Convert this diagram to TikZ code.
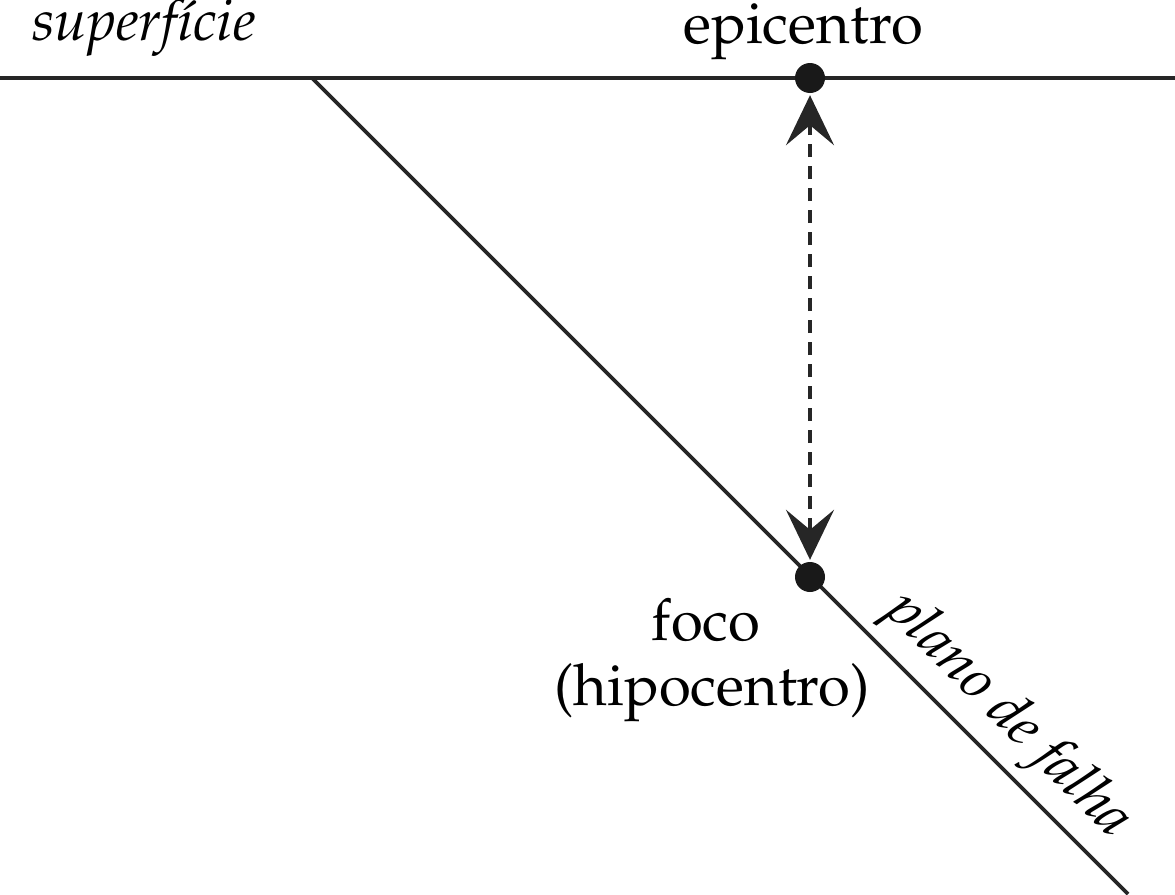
\documentclass[tikz,border=0pt]{standalone}
\usepackage[T1]{fontenc}
\usepackage{mathpazo}
\usetikzlibrary{arrows.meta}
\begin{document}
\begin{tikzpicture}[x=1pt,y=-1pt,
  ln/.style={line width=3.6pt,color=black!85},
  dotn/.style={circle,fill=black!90,inner sep=0pt,minimum size=30pt},
  lbl/.style={font=\fontsize{58}{67}\selectfont,inner sep=0pt,text=black},
  dasharrow/.style={line width=3.6pt,color=black!85,dash pattern=on 13pt off 9pt,
    {Stealth[length=50pt,width=48pt,inset=20pt]}-{Stealth[length=50pt,width=48pt,inset=20pt]},
    shorten <=2pt,shorten >=2pt}]
\useasboundingbox (0,0) rectangle (1175,894);
\coordinate (sl) at (0,78);
\coordinate (sr) at (1175,78);
\coordinate (ft) at (312,78);
\coordinate (fb) at (1128,894);
\draw[ln] (sl) -- (sr);
\draw[ln] (ft) -- (fb);
\node[dotn] (epi) at (810,78) {};
\node[dotn] (foc) at (810,577) {};
\draw[dasharrow] (foc) -- (epi);
\node[lbl,anchor=base] (tepi) at (803,43) {epicentro};
\node[lbl,anchor=base west] (tsup) at (32,40) {\itshape superf\'{\i}cie};
\node[lbl,anchor=base] (tfoco) at (706,640) {foco};
\node[lbl,anchor=base] (thipo) at (712,705) {(hipocentro)};
\node[lbl,rotate=-45,anchor=base] (tplano) at (998,726) {\itshape plano de falha};
\end{tikzpicture}
\end{document}
